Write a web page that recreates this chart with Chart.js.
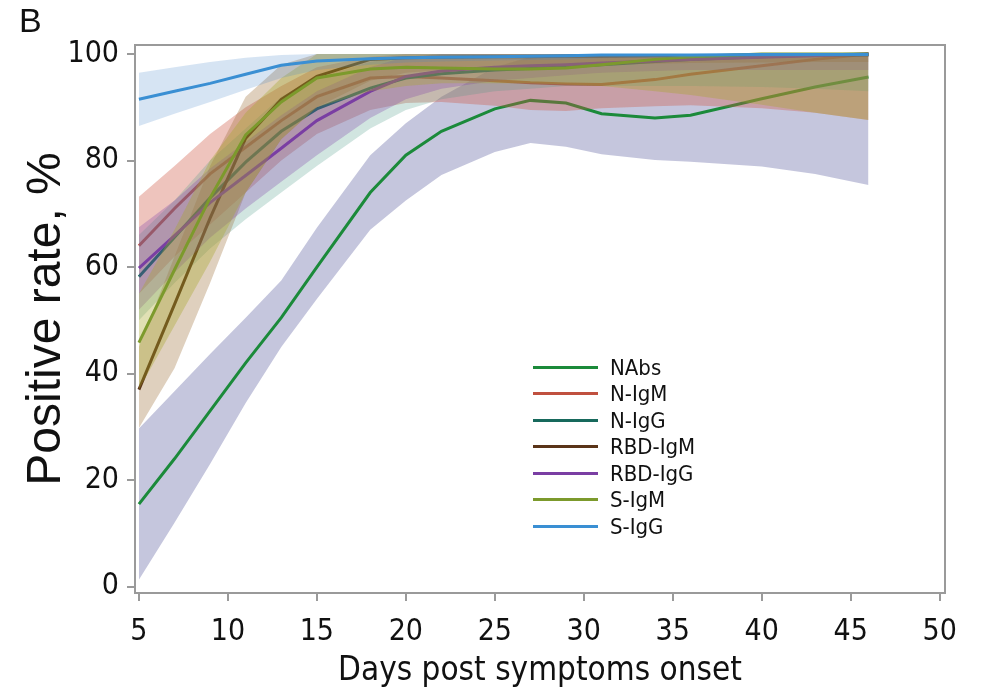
<!DOCTYPE html>
<html lang="en">
<head>
  <meta charset="UTF-8" />
  <title>Positive rate by days post symptoms onset</title>
  <script src="https://cdn.jsdelivr.net/npm/chart.js"></script>
  <style>
    body {
      margin: 0;
      background: #fff;
    }
    #wrap {
      position: relative;
      width: 984px;
      height: 697px;
    }
    #panel {
      position: absolute;
      left: 19px;
      top: 1px;
      font-family: 'Liberation Sans', Arial, sans-serif;
      font-size: 34px;
      color: #111;
    }
    #legend {
      position: absolute;
      left: 533px;
      top: 354px;
      font-family: 'Liberation Sans Narrow', 'DejaVu Sans Condensed', sans-serif;
      font-size: 22px;
      color: #111;
    }
    .row {
      display: flex;
      align-items: center;
      height: 26.5px;
    }
    .swatch {
      width: 65px;
      height: 3px;
      margin-right: 12px;
    }
  </style>
</head>
<body>
  <div id="wrap">
    <canvas id="chart" width="984" height="697"></canvas>
    <div id="panel">B</div>
    <div id="legend"></div>
  </div>

  <script>
    // values
    const days = [5, 7, 9, 11, 13, 15, 18, 20, 22, 25, 27, 29, 31, 34, 36, 40, 43, 46];
    const xTicks = [5, 10, 15, 20, 25, 30, 35, 40, 45, 50];
    const yTicks = [0, 20, 40, 60, 80, 100];
    const names = ["NAbs", "N-IgM", "N-IgG", "RBD-IgM", "RBD-IgG", "S-IgM", "S-IgG"];

    const nabs   = [15.5, 24, 33, 42, 50.5, 60, 74, 81, 85.5, 89.7, 91.3, 90.8, 88.8, 88.0, 88.5, 91.6, 93.8, 95.7];
    const nabsLo = [1.3, 12, 23, 34.5, 45, 54, 67, 72.5, 77.3, 81.6, 83.3, 82.6, 81.2, 80.1, 79.8, 78.9, 77.5, 75.4];
    const nabsHi = [29.7, 36.7, 43.7, 50.5, 57.5, 67.4, 81, 87, 92, 97.5, 99.5, 100, 100, 100, 100, 100, 100, 100];

    const nIgM   = [64, 71, 77.5, 82.5, 87.5, 92, 95.5, 95.8, 95.5, 95, 94.6, 94.4, 94.3, 95.2, 96.2, 97.8, 99, 100];
    const nIgMLo = [55, 62, 68, 74, 80, 85, 89.5, 90.8, 91, 90.3, 89.5, 89.3, 89.8, 90.2, 90.4, 89.8, 89, 87.6];
    const nIgMHi = [73.2, 79, 85, 90, 94, 97.5, 99.5, 100, 100, 100, 100, 100, 100, 100, 100, 100, 100, 100];

    const nIgG   = [58.2, 65.6, 73, 79.7, 85.5, 89.7, 93.6, 95.5, 96.3, 97, 97.3, 97.6, 98, 98.6, 99, 99.5, 99.8, 100];
    const nIgGLo = [50, 57, 63.5, 69, 74, 79, 86, 89.5, 91.5, 93, 93.5, 94, 94, 94, 94, 93.8, 93.5, 93];
    const nIgGHi = [66, 72.5, 80, 86, 92, 95.5, 98.5, 99.5, 100, 100, 100, 100, 100, 100, 100, 100, 100, 100];

    const rbdIgM   = [37, 53, 69.2, 84.2, 91.5, 95.8, 99, 99.3, 99.4, 99.5, 99.5, 99.6, 99.6, 99.7, 99.7, 99.8, 99.8, 99.8];
    const rbdIgMLo = [29.8, 41, 57, 74, 84, 90, 95, 96.5, 97, 97.5, 97.8, 98, 98, 98.2, 98.3, 98.4, 98.5, 98.5];
    const rbdIgMHi = [45, 62, 79, 92, 98, 100, 100, 100, 100, 100, 100, 100, 100, 100, 100, 100, 100, 100];

    const rbdIgG   = [59.8, 65.9, 72.1, 77.2, 82.3, 87.5, 93, 95.8, 96.8, 97.5, 97.8, 98, 98.3, 98.7, 99, 99.4, 99.7, 100];
    const rbdIgGLo = [52, 59, 65.5, 71, 76, 81, 88, 91.5, 93.5, 95, 95.5, 96, 96.5, 96.8, 97, 97, 97, 97];
    const rbdIgGHi = [67.5, 72.5, 78.5, 83.5, 88.5, 93, 97.5, 99.5, 100, 100, 100, 100, 100, 100, 100, 100, 100, 100];

    const sIgM   = [45.8, 59.5, 73, 84.8, 91, 95.5, 97.2, 97.5, 97.4, 97.2, 97.2, 97.4, 98, 99, 99.5, 100, 100, 100];
    const sIgMLo = [37, 49, 61, 74, 84, 90, 93, 94, 94.5, 94.5, 94.5, 94.3, 94, 93, 92.3, 90.5, 89, 87.6];
    const sIgMHi = [55, 67, 80, 89, 95.5, 100, 100, 100, 100, 100, 100, 100, 100, 100, 100, 100, 100, 100];

    const sIgG   = [91.5, 93, 94.5, 96.2, 97.9, 98.7, 99.1, 99.3, 99.4, 99.5, 99.6, 99.7, 99.8, 99.8, 99.8, 99.9, 99.9, 99.9];
    const sIgGLo = [86.5, 88.8, 91, 93.3, 95.5, 97, 98, 98.4, 98.6, 98.8, 98.9, 99, 99.2, 99.3, 99.3, 99.4, 99.5, 99.5];
    const sIgGHi = [96.5, 97.5, 98.5, 99.3, 99.8, 100, 100, 100, 100, 100, 100, 100, 100, 100, 100, 100, 100, 100];

    const lines = [nabs, nIgM, nIgG, rbdIgM, rbdIgG, sIgM, sIgG];
    const lows  = [nabsLo, nIgMLo, nIgGLo, rbdIgMLo, rbdIgGLo, sIgMLo, sIgGLo];
    const highs = [nabsHi, nIgMHi, nIgGHi, rbdIgMHi, rbdIgGHi, sIgMHi, sIgGHi];

    const lineColors = ["#1b8a3a", "#c0503f", "#17695c", "#5a3418", "#7a3ea3", "#7c9a2c", "#3a8fd3"];
    const bandColors = [
      "rgba(110,112,170,0.40)",
      "rgba(205,85,65,0.35)",
      "rgba(70,150,130,0.25)",
      "rgba(150,100,40,0.30)",
      "rgba(130,70,170,0.30)",
      "rgba(165,165,40,0.35)",
      "rgba(70,130,200,0.22)"
    ];

    const narrow = "'Liberation Sans Narrow', 'DejaVu Sans Condensed', sans-serif";
    const pts = arr => arr.map((v, i) => ({ x: days[i], y: v }));

    // each series: band then its line, later series drawn over earlier ones
    // (Chart.js draws higher `order` first)
    const datasets = [];
    const n = names.length;
    names.forEach((name, i) => {
      const base = (n - i) * 2;
      datasets.push({
        label: name + " lo", data: pts(lows[i]), borderWidth: 0, pointRadius: 0,
        fill: false, order: base + 1
      });
      datasets.push({
        label: name + " hi", data: pts(highs[i]), borderWidth: 0, pointRadius: 0,
        fill: "-1", backgroundColor: bandColors[i], order: base + 1
      });
      datasets.push({
        label: name, data: pts(lines[i]), borderColor: lineColors[i], borderWidth: 3,
        pointRadius: 0, fill: false, tension: 0, order: base
      });
    });

    const frame = {
      id: "frame",
      afterDraw(chart) {
        const a = chart.chartArea, ctx = chart.ctx;
        ctx.save();
        ctx.strokeStyle = "#9a9a9a";
        ctx.lineWidth = 2;
        ctx.strokeRect(a.left, a.top, a.right - a.left, a.bottom - a.top);
        ctx.restore();
      }
    };

    new Chart(document.getElementById("chart"), {
      type: "line",
      data: { datasets },
      plugins: [frame],
      options: {
        responsive: false,
        animation: false,
        devicePixelRatio: 1,
        layout: { padding: { top: 45, right: 39, left: 0, bottom: 0 } },
        plugins: { legend: { display: false }, tooltip: { enabled: false } },
        scales: {
          x: {
            type: "linear",
            min: 4.78,
            max: 50.3,
            afterBuildTicks: s => { s.ticks = xTicks.map(v => ({ value: v })); },
            afterFit: s => { s.height = 104; },
            grid: { drawOnChartArea: false, tickLength: 8, color: "#9a9a9a", lineWidth: 2 },
            border: { color: "#9a9a9a", width: 2 },
            ticks: { color: "#111", font: { family: narrow, size: 30 }, padding: 13, maxRotation: 0, autoSkip: false },
            title: {
              display: true, text: "Days post symptoms onset", color: "#111",
              font: { family: narrow, size: 33 }, padding: { top: 0, bottom: 6 }
            }
          },
          y: {
            min: -1.2,
            max: 101.7,
            afterBuildTicks: s => { s.ticks = yTicks.map(v => ({ value: v })); },
            afterFit: s => { s.width = 135; },
            grid: { drawOnChartArea: false, tickLength: 8, color: "#9a9a9a", lineWidth: 2 },
            border: { color: "#9a9a9a", width: 2 },
            ticks: { color: "#111", font: { family: narrow, size: 30 }, padding: 8 },
            title: {
              display: true, text: "Positive rate, %", color: "#111",
              font: { family: "'Liberation Sans', Arial, sans-serif", size: 48 }, padding: { top: 18, bottom: 0 }
            }
          }
        }
      }
    });

    const legend = document.getElementById("legend");
    names.forEach((name, i) => {
      const row = document.createElement("div");
      row.className = "row";
      row.innerHTML = `<span class="swatch" style="background:${lineColors[i]}"></span><span>${name}</span>`;
      legend.appendChild(row);
    });
  </script>
</body>
</html>
